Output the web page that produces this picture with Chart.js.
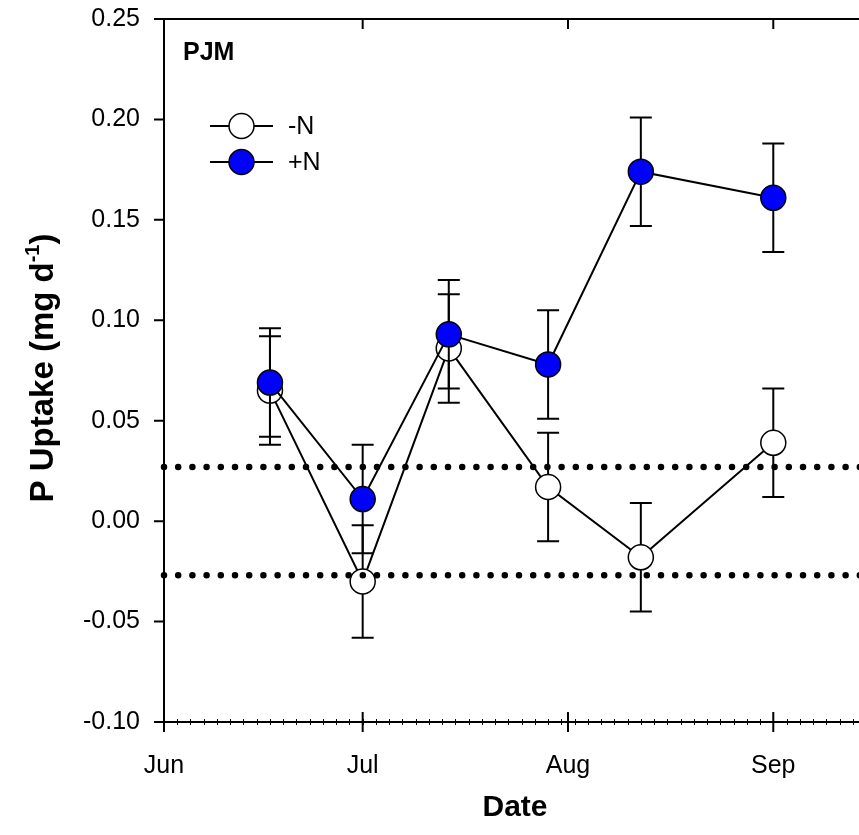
<!DOCTYPE html>
<html lang="en">
  <head>
    <meta charset="UTF-8" />
    <title>P Uptake PJM</title>
    <style>
      html,
      body {
        margin: 0;
        padding: 0;
        width: 859px;
        height: 835px;
        overflow: hidden;
        background: #fff;
      }
      canvas {
        display: block;
      }
    </style>
  </head>
  <body>
    <canvas id="chart" width="880" height="835"></canvas>
    <script src="https://cdn.jsdelivr.net/npm/chart.js@4.4.0/dist/chart.umd.min.js"></script>
    <script>
      // Days counted from June 1.
      const sampleDays = [16, 30, 43, 58, 72, 92];
      const minusN = [0.065, -0.03, 0.086, 0.017, -0.018, 0.039];
      const minusNErr = [0.027, 0.028, 0.027, 0.027, 0.027, 0.027];
      const plusN = [0.069, 0.011, 0.093, 0.078, 0.174, 0.161];
      const plusNErr = [0.027, 0.027, 0.027, 0.027, 0.027, 0.027];
      const refLevels = [0.027, -0.027];
      const monthDays = [0, 30, 61, 92];
      const monthLabels = ["Jun", "Jul", "Aug", "Sep"];
      const yTicks = [-0.1, -0.05, 0, 0.05, 0.1, 0.15, 0.2, 0.25];
      const xMin = 0;
      const xMax = 106;

      const FONT = "'Liberation Sans', Arial, Helvetica, sans-serif";

      function points(values) {
        return values.map((v, i) => ({ x: sampleDays[i], y: v }));
      }

      // error bars under each dataset's own markers
      const errorBars = {
        id: "errorBars",
        beforeDatasetDraw(chart, args) {
          const ds = chart.data.datasets[args.index];
          if (!ds.errors) return;
          const { ctx, scales } = chart;
          ctx.save();
          ctx.strokeStyle = "#000";
          ctx.lineWidth = 2;
          ds.data.forEach((p, i) => {
            const x = scales.x.getPixelForValue(p.x);
            const yTop = scales.y.getPixelForValue(p.y + ds.errors[i]);
            const yBot = scales.y.getPixelForValue(p.y - ds.errors[i]);
            ctx.beginPath();
            ctx.moveTo(x, yTop);
            ctx.lineTo(x, yBot);
            ctx.moveTo(x - 11, yTop);
            ctx.lineTo(x + 11, yTop);
            ctx.moveTo(x - 11, yBot);
            ctx.lineTo(x + 11, yBot);
            ctx.stroke();
          });
          ctx.restore();
        },
      };

      // frame, ticks, y title, legend and panel label
      const decorations = {
        id: "decorations",
        afterDraw(chart) {
          const { ctx, chartArea: a, scales } = chart;
          const x = scales.x;
          const y = scales.y;
          ctx.save();
          ctx.strokeStyle = "#000";
          ctx.lineWidth = 2;
          ctx.beginPath();
          ctx.moveTo(a.left, a.top);
          ctx.lineTo(a.left, a.bottom);
          ctx.moveTo(a.left, a.bottom);
          ctx.lineTo(a.right, a.bottom);
          ctx.moveTo(a.left, a.top);
          ctx.lineTo(a.right, a.top);
          ctx.moveTo(a.right, a.top);
          ctx.lineTo(a.right, a.bottom);
          // y ticks, outward
          yTicks.forEach((v) => {
            const py = y.getPixelForValue(v);
            ctx.moveTo(a.left - 10, py);
            ctx.lineTo(a.left, py);
          });
          // month ticks: crossing at bottom, inward at top
          monthDays.forEach((d) => {
            const px = x.getPixelForValue(d);
            ctx.moveTo(px, a.bottom - 10);
            ctx.lineTo(px, a.bottom + 10);
            ctx.moveTo(px, a.top);
            ctx.lineTo(px, a.top + 10);
          });
          ctx.stroke();
          // minor ticks every 2 days
          ctx.lineWidth = 1;
          ctx.beginPath();
          for (let d = xMin + 2; d < xMax; d += 2) {
            const px = Math.round(x.getPixelForValue(d)) + 0.5;
            ctx.moveTo(px, a.bottom - 3);
            ctx.lineTo(px, a.bottom + 3);
          }
          ctx.stroke();

          // y axis title with superscript
          ctx.fillStyle = "#000";
          ctx.translate(53, 368);
          ctx.rotate(-Math.PI / 2);
          const big = "bold 33px " + FONT;
          const small = "bold 20px " + FONT;
          const p1 = "P Uptake (mg d";
          const sup = "-1";
          const p2 = ")";
          ctx.font = big;
          const w1 = ctx.measureText(p1).width;
          const w3 = ctx.measureText(p2).width;
          ctx.font = small;
          const w2 = ctx.measureText(sup).width;
          let sx = -(w1 + w2 + w3) / 2;
          ctx.textBaseline = "alphabetic";
          ctx.font = big;
          ctx.fillText(p1, sx, 0);
          sx += w1;
          ctx.font = small;
          ctx.fillText(sup, sx, -14);
          sx += w2;
          ctx.font = big;
          ctx.fillText(p2, sx, 0);
          ctx.restore();

          // panel label
          ctx.save();
          ctx.fillStyle = "#000";
          ctx.font = "bold 25px " + FONT;
          ctx.textBaseline = "middle";
          ctx.fillText("PJM", 183, 53);

          // legend
          const rows = [
            { label: "-N", fill: "#ffffff", y: 126 },
            { label: "+N", fill: "#0000ff", y: 162 },
          ];
          rows.forEach((r) => {
            ctx.strokeStyle = "#000";
            ctx.lineWidth = 2;
            ctx.beginPath();
            ctx.moveTo(210, r.y);
            ctx.lineTo(273, r.y);
            ctx.stroke();
            ctx.beginPath();
            ctx.arc(241.5, r.y, 12.5, 0, Math.PI * 2);
            ctx.fillStyle = r.fill;
            ctx.fill();
            ctx.lineWidth = 1.5;
            ctx.stroke();
            ctx.fillStyle = "#000";
            ctx.font = "25px " + FONT;
            ctx.fillText(r.label, 288, r.y + 1);
          });
          ctx.restore();
        },
      };

      const series = (label, values, errors, fill, order) => ({
        label,
        data: points(values),
        errors,
        order,
        borderColor: "#000",
        borderWidth: 2,
        pointRadius: 12.5,
        pointHoverRadius: 12.5,
        pointBorderWidth: 1.5,
        pointBackgroundColor: fill,
        pointBorderColor: "#000",
        showLine: true,
        tension: 0,
        clip: false,
      });

      const refLine = (level) => ({
        label: "ref " + level,
        data: [
          { x: xMin, y: level },
          { x: xMax, y: level },
        ],
        order: 0,
        borderColor: "#000",
        borderWidth: 6.5,
        borderDash: [0, 14.2],
        borderCapStyle: "round",
        pointRadius: 0,
        showLine: true,
        clip: 8,
      });

      new Chart(document.getElementById("chart"), {
        type: "scatter",
        data: {
          datasets: [
            series("-N", minusN, minusNErr, "#ffffff", 2),
            series("+N", plusN, plusNErr, "#0000ff", 1),
            ...refLevels.map(refLine),
          ],
        },
        options: {
          responsive: false,
          animation: false,
          devicePixelRatio: 1,
          layout: { padding: { top: 19, right: 14, left: 0, bottom: 0 } },
          plugins: {
            legend: { display: false },
            tooltip: { enabled: false },
          },
          scales: {
            x: {
              type: "linear",
              min: xMin,
              max: xMax,
              afterFit: (s) => {
                s.height = 113;
                s.paddingLeft = 0;
                s.paddingRight = 0;
              },
              afterBuildTicks: (s) => {
                s.ticks = monthDays.map((v) => ({ value: v }));
              },
              grid: { display: false, drawTicks: false },
              border: { display: false },
              ticks: {
                autoSkip: false,
                maxRotation: 0,
                padding: 29,
                color: "#000",
                font: { family: FONT, size: 25 },
                callback: (v) => monthLabels[monthDays.indexOf(v)],
              },
              title: {
                display: true,
                text: "Date",
                color: "#000",
                font: { family: FONT, size: 30, weight: "bold" },
                padding: { top: 0, bottom: 9 },
              },
            },
            y: {
              min: -0.1,
              max: 0.25,
              afterFit: (s) => {
                s.width = 164;
                s.paddingTop = 0;
                s.paddingBottom = 0;
              },
              afterBuildTicks: (s) => {
                s.ticks = yTicks.map((v) => ({ value: v }));
              },
              grid: { display: false, drawTicks: false },
              border: { display: false },
              ticks: {
                padding: 24,
                color: "#000",
                font: { family: FONT, size: 25 },
                callback: (v) => v.toFixed(2),
              },
            },
          },
        },
        plugins: [errorBars, decorations],
      });
    </script>
  </body>
</html>
